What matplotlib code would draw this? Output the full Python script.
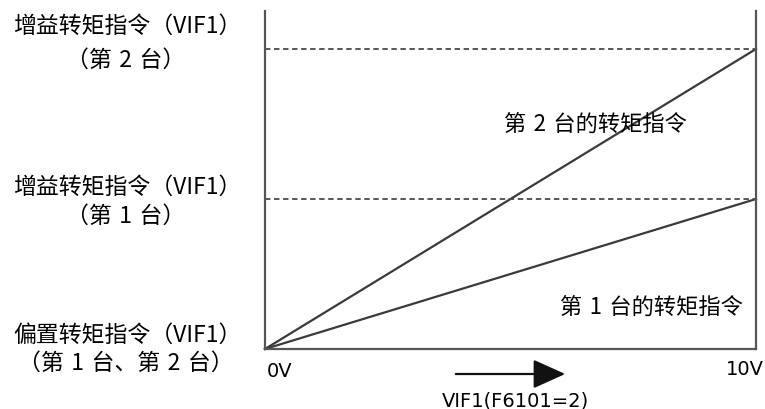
import matplotlib
matplotlib.use("Agg")
import matplotlib.pyplot as plt

plt.rcParams['font.family'] = ['Noto Sans CJK SC', 'DejaVu Sans']

# data: input voltage (V) vs torque command (relative units)
x_volts = [0, 10]
unit2_cmd = [0, 2]
unit1_cmd = [0, 1]
gain_levels = [2, 1]

left_labels = [("增益转矩指令（VIF1）", "（第 2 台）"),
               ("增益转矩指令（VIF1）", "（第 1 台）"),
               ("偏置转矩指令（VIF1）", "（第 1 台、第 2 台）")]
left_label_rows = [(26, 60), (187, 216), (335, 363)]  # pixel rows of each text line

line_col = "#3a3a3a"
spine_col = "#555555"
SP = "\u2004"

fig = plt.figure(figsize=(7.65, 4.1), dpi=100)
W, H = 765, 410
ax = fig.add_axes([265 / W, 1 - 350 / H, (756 - 265) / W, (350 - 12) / H])

ax.plot(x_volts, unit2_cmd, color=line_col, lw=1.6, clip_on=False)
ax.plot(x_volts, unit1_cmd, color=line_col, lw=1.6, clip_on=False)
for g in gain_levels:
    ax.axhline(g, color="#4a4a4a", lw=1.3, ls=(0, (3, 2)))

ax.set_xlim(0, 10)
ax.set_ylim(0, 338 / 150)
ax.spines['top'].set_visible(False)
for s in ['left', 'right', 'bottom']:
    ax.spines[s].set_color(spine_col)
    ax.spines[s].set_linewidth(1.6)
ax.set_xticks([])
ax.set_yticks([])

ax.text(6.72, 1.507, f"第{SP}2{SP}台的转矩指令", fontsize=16, ha='center', va='center')
ax.text(7.88, 0.287, f"第{SP}1{SP}台的转矩指令", fontsize=16, ha='center', va='center')

for (l1, l2), (r1, r2) in zip(left_labels, left_label_rows):
    fig.text(127 / W, 1 - r1 / H, l1.replace(" ", SP), fontsize=16.5,
             ha='center', va='center')
    fig.text(126 / W, 1 - r2 / H, l2.replace(" ", SP), fontsize=16.5,
             ha='center', va='center')

fig.text(280 / W, 1 - 372 / H, "0V", fontsize=14, ha='center', va='center',
         family='DejaVu Sans')
fig.text(745 / W, 1 - 370 / H, "10V", fontsize=14, ha='center', va='center',
         family='DejaVu Sans')
fig.text(515 / W, 1 - 401 / H, "VIF1(F6101=2)", fontsize=14, ha='center', va='center',
         family='DejaVu Sans')
fig.add_artist(matplotlib.patches.FancyArrowPatch(
    (453 / W, 1 - 375 / H), (568 / W, 1 - 375 / H), transform=fig.transFigure,
    arrowstyle='-|>,head_length=1.0,head_width=0.45', mutation_scale=20,
    color="#111111", lw=1.6))

fig.savefig("out.png", dpi=100, facecolor="white")
